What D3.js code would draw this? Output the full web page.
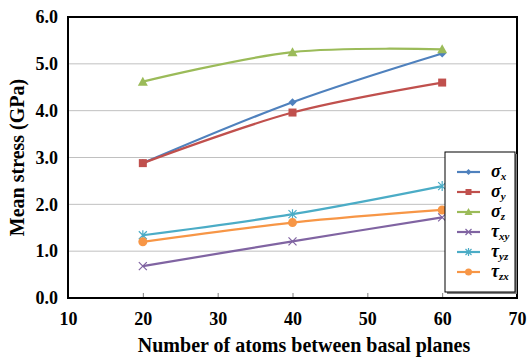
<!DOCTYPE html>
<html>
<head>
<meta charset="utf-8">
<script src="https://cdn.jsdelivr.net/npm/d3@7"></script>
<style>
  body { margin: 0; background: #fff; }
  svg { display: block; }
  text { font-family: "Liberation Serif", "Times New Roman", serif; }
</style>
</head>
<body>
<div id="chart"></div>
<script>
const atoms = [20, 40, 60];
const sigmaX = [2.88, 4.18, 5.22];
const sigmaY = [2.88, 3.96, 4.60];
const sigmaZ = [4.62, 5.25, 5.31];
const tauXY = [0.68, 1.21, 1.72];
const tauYZ = [1.34, 1.79, 2.39];
const tauZX = [1.20, 1.61, 1.88];
const xTicks = [10, 20, 30, 40, 50, 60, 70];
const yTicks = [0, 1, 2, 3, 4, 5, 6];

const series = [
  { sym: 'σ', sub: 'x', values: sigmaX, color: '#4f81bd', marker: 'diamond' },
  { sym: 'σ', sub: 'y', values: sigmaY, color: '#c0504d', marker: 'square' },
  { sym: 'σ', sub: 'z', values: sigmaZ, color: '#9bbb59', marker: 'triangle' },
  { sym: 'τ', sub: 'xy', values: tauXY, color: '#8064a2', marker: 'cross' },
  { sym: 'τ', sub: 'yz', values: tauYZ, color: '#4bacc6', marker: 'star' },
  { sym: 'τ', sub: 'zx', values: tauZX, color: '#f79646', marker: 'circle' }
];

const W = 530, H = 358;
const margin = { top: 17, right: 13, bottom: 60, left: 68 };
const width = W - margin.left - margin.right;
const height = H - margin.top - margin.bottom;

const svg = d3.select('#chart').append('svg')
  .attr('width', W)
  .attr('height', H);
const g = svg.append('g')
  .attr('transform', `translate(${margin.left},${margin.top})`);

const x = d3.scaleLinear().domain([10, 70]).range([0, width]);
const y = d3.scaleLinear().domain([0, 6]).range([height, 0]);

// gridlines
g.append('g')
  .selectAll('line')
  .data(yTicks.slice(1, -1))
  .join('line')
  .attr('x1', 0).attr('x2', width)
  .attr('y1', d => y(d)).attr('y2', d => y(d))
  .attr('stroke', '#c0c0c0')
  .attr('stroke-width', 1);

// axes
const xAxis = g.append('g')
  .attr('transform', `translate(0,${height})`)
  .call(d3.axisBottom(x).tickValues(xTicks).tickSize(-5).tickPadding(14).tickFormat(d3.format('d')));
xAxis.select('.domain').remove();
xAxis.selectAll('.tick line').attr('stroke', '#808080');
xAxis.selectAll('text')
  .attr('font-size', 18).attr('font-weight', 'bold')
  .attr('fill', '#000')
  .attr('font-family', '"Liberation Serif", serif');

const yAxis = g.append('g')
  .call(d3.axisLeft(y).tickValues(yTicks).tickSize(0).tickPadding(10).tickFormat(d3.format('.1f')));
yAxis.select('.domain').remove();
yAxis.selectAll('text')
  .attr('font-size', 18).attr('font-weight', 'bold')
  .attr('fill', '#000')
  .attr('font-family', '"Liberation Serif", serif');

// plot border
g.append('rect')
  .attr('x', 0).attr('y', 0)
  .attr('width', width).attr('height', height)
  .attr('fill', 'none')
  .attr('stroke', '#000')
  .attr('stroke-width', 2);

// lines
const line = d3.line()
  .x((d, i) => x(atoms[i]))
  .y(d => y(d))
  .curve(d3.curveCatmullRom.alpha(0.5));

function drawMarker(sel, type, color, size) {
  const s = size;
  if (type === 'diamond') {
    sel.append('path').attr('d', `M0,${-s}L${s},0L0,${s}L${-s},0Z`).attr('fill', color);
  } else if (type === 'square') {
    sel.append('rect').attr('x', -s).attr('y', -s).attr('width', 2 * s).attr('height', 2 * s).attr('fill', color);
  } else if (type === 'triangle') {
    sel.append('path').attr('d', `M0,${-s - 1}L${s + 1},${s}L${-s - 1},${s}Z`).attr('fill', color);
  } else if (type === 'cross') {
    sel.append('path').attr('d', `M${-s},${-s}L${s},${s}M${-s},${s}L${s},${-s}`)
      .attr('stroke', color).attr('stroke-width', 1.2).attr('fill', 'none');
  } else if (type === 'star') {
    sel.append('path').attr('d', `M${-s},${-s}L${s},${s}M${-s},${s}L${s},${-s}M0,${-s - 1}L0,${s + 1}`)
      .attr('stroke', color).attr('stroke-width', 1.2).attr('fill', 'none');
  } else {
    sel.append('circle').attr('r', s + 0.5).attr('fill', color);
  }
}

series.forEach(s => {
  g.append('path')
    .datum(s.values)
    .attr('fill', 'none')
    .attr('stroke', s.color)
    .attr('stroke-width', 2.2)
    .attr('d', line);
  s.values.forEach((v, i) => {
    const m = g.append('g').attr('transform', `translate(${x(atoms[i])},${y(v)})`);
    drawMarker(m, s.marker, s.color, 4);
  });
});

// legend
const lg = svg.append('g').attr('transform', 'translate(445,152)');
lg.append('rect')
  .attr('x', 2).attr('y', 2)
  .attr('width', 70).attr('height', 140)
  .attr('fill', '#808080');
lg.append('rect')
  .attr('width', 70).attr('height', 140)
  .attr('fill', '#fff')
  .attr('stroke', '#000')
  .attr('stroke-width', 1);
series.forEach((s, i) => {
  const row = lg.append('g').attr('transform', `translate(0,${20 + i * 20})`);
  row.append('line')
    .attr('x1', 12).attr('x2', 35)
    .attr('stroke', s.color).attr('stroke-width', 2.2);
  const m = row.append('g').attr('transform', 'translate(23.5,0)');
  drawMarker(m, s.marker, s.color, 3);
  const t = row.append('text')
    .attr('x', 46).attr('y', 5)
    .attr('font-size', 18).attr('font-weight', 'bold').attr('font-style', 'italic')
    .attr('fill', '#000');
  t.append('tspan').text(s.sym);
  t.append('tspan').attr('font-size', 11).attr('dy', 3).text(s.sub);
});

// axis titles
svg.append('text')
  .attr('x', 304)
  .attr('y', 352)
  .attr('text-anchor', 'middle')
  .attr('font-size', 20).attr('font-weight', 'bold')
  .text('Number of atoms between basal planes');

svg.append('text')
  .attr('transform', `translate(24,${margin.top + height / 2}) rotate(-90)`)
  .attr('text-anchor', 'middle')
  .attr('font-size', 20).attr('font-weight', 'bold')
  .text('Mean stress (GPa)');
</script>
</body>
</html>
